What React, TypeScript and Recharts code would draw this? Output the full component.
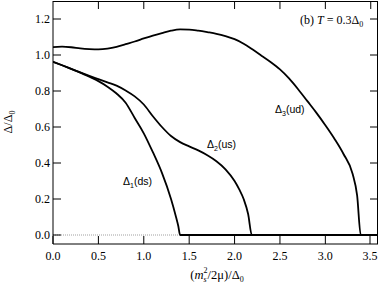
import { LineChart, Line, XAxis, YAxis, ReferenceLine } from "recharts";

// series: x = (m_s^2/2mu)/Delta_0, y = Delta/Delta_0
const dsX = [0, 0.1, 0.2, 0.3, 0.4, 0.5, 0.6, 0.7, 0.8, 0.9, 1.0, 1.1, 1.2, 1.3, 1.35, 1.38, 1.4, 3.58];
const dsY = [0.962, 0.943, 0.923, 0.902, 0.879, 0.855, 0.824, 0.786, 0.735, 0.65, 0.565, 0.46, 0.345, 0.2, 0.11, 0.05, 0, 0];

const usX = [0, 0.1, 0.2, 0.3, 0.4, 0.5, 0.6, 0.7, 0.8, 0.9, 1.0, 1.1, 1.2, 1.3, 1.4, 1.5, 1.6, 1.7, 1.8, 1.9, 2.0, 2.05, 2.1, 2.15, 2.19, 3.58];
const usY = [0.962, 0.943, 0.923, 0.903, 0.884, 0.866, 0.848, 0.83, 0.803, 0.77, 0.725, 0.66, 0.6, 0.55, 0.516, 0.492, 0.47, 0.443, 0.41, 0.365, 0.3, 0.255, 0.2, 0.115, 0, 0];

const udX = [0, 0.1, 0.2, 0.3, 0.4, 0.5, 0.6, 0.7, 0.8, 0.9, 1.0, 1.1, 1.2, 1.3, 1.4, 1.5, 1.6, 1.7, 1.8, 1.9, 2.0, 2.1, 2.2, 2.3, 2.4, 2.5, 2.6, 2.7, 2.8, 2.9, 3.0, 3.1, 3.2, 3.3, 3.35, 3.39, 3.58];
const udY = [1.044, 1.046, 1.043, 1.037, 1.033, 1.031, 1.035, 1.045, 1.06, 1.075, 1.092, 1.108, 1.122, 1.135, 1.142, 1.141, 1.135, 1.127, 1.118, 1.105, 1.088, 1.063, 1.03, 0.995, 0.96, 0.92, 0.87, 0.81, 0.745, 0.68, 0.61, 0.535, 0.45, 0.34, 0.22, 0, 0];

const xTicks = [0, 0.5, 1.0, 1.5, 2.0, 2.5, 3.0, 3.5];
const yTicks = [0, 0.2, 0.4, 0.6, 0.8, 1.0, 1.2];
const X_MAX = 3.58;
const Y_MIN = -0.05;
const Y_MAX = 1.3;

const toRows = (xs: number[], ys: number[]) => xs.map((x, i) => ({ x, y: ys[i] }));
const dsData = toRows(dsX, dsY);
const usData = toRows(usX, usY);
const udData = toRows(udX, udY);

const W = 380;
const H = 286;
const M = { top: 1, right: 2, bottom: 0, left: 0 };
const Y_AXIS_W = 53;
const X_AXIS_H = 42;
// plot box, same numbers the chart gets
const PL = M.left + Y_AXIS_W;
const PR = W - M.right;
const PT = M.top;
const PB = H - M.bottom - X_AXIS_H;
const px = (v: number) => PL + (v / X_MAX) * (PR - PL);
const py = (v: number) => PT + ((Y_MAX - v) / (Y_MAX - Y_MIN)) * (PB - PT);

const SERIF = "Liberation Serif";
const SANS = "Liberation Sans";
const TICK = 8;

// inward tick marks, like the original plot frame
const BottomTick = ({ x, y, payload }: any) => (
  <g>
    <line x1={x} y1={y} x2={x} y2={y - TICK} stroke="#000" />
    <text x={x} y={y + 15.5} textAnchor="middle" fontFamily={SERIF} fontSize={12} fill="#000">
      {payload.value.toFixed(1)}
    </text>
  </g>
);
const LeftTick = ({ x, y, payload }: any) => (
  <g>
    <line x1={x} y1={y} x2={x + TICK} y2={y} stroke="#000" />
    <text x={x - 3} y={y + 4} textAnchor="end" fontFamily={SERIF} fontSize={12} fill="#000">
      {payload.value.toFixed(1)}
    </text>
  </g>
);

const Sub = ({ children, size = 7 }: any) => (
  <tspan dy={3} fontSize={size}>
    {children}
  </tspan>
);

export default function App() {
  return (
    <div style={{ position: "absolute", left: 0, top: 0, width: W, height: H, background: "#fff" }}>
      <LineChart width={W} height={H} margin={M}>
        <XAxis
          type="number"
          dataKey="x"
          domain={[0, X_MAX]}
          ticks={xTicks}
          allowDataOverflow
          height={X_AXIS_H}
          tickSize={0}
          tickMargin={0}
          tickLine={false}
          tick={<BottomTick />}
          stroke="#000"
        />
        <YAxis
          type="number"
          domain={[Y_MIN, Y_MAX]}
          ticks={yTicks}
          allowDataOverflow
          width={Y_AXIS_W}
          tickSize={0}
          tickMargin={0}
          tickLine={false}
          tick={<LeftTick />}
          stroke="#000"
        />
        <ReferenceLine y={0} stroke="#888" strokeDasharray="1 1" strokeWidth={0.8} />
        <Line data={dsData} dataKey="y" type="monotone" stroke="#000" strokeWidth={1.8} dot={false} isAnimationActive={false} />
        <Line data={usData} dataKey="y" type="monotone" stroke="#000" strokeWidth={1.8} dot={false} isAnimationActive={false} />
        <Line data={udData} dataKey="y" type="monotone" stroke="#000" strokeWidth={1.8} dot={false} isAnimationActive={false} />
      </LineChart>
      <svg width={W} height={H} style={{ position: "absolute", left: 0, top: 0, pointerEvents: "none" }}>
        {/* top and right sides of the frame with inward ticks */}
        <line x1={PL} y1={PT + 0.5} x2={PR} y2={PT + 0.5} stroke="#000" />
        <line x1={PR - 0.5} y1={PT} x2={PR - 0.5} y2={PB} stroke="#000" />
        {xTicks.slice(1).map((t) => (
          <line key={"t" + t} x1={px(t)} y1={PT} x2={px(t)} y2={PT + TICK} stroke="#000" />
        ))}
        {yTicks.slice(1).map((t) => (
          <line key={"r" + t} x1={PR} y1={py(t)} x2={PR - TICK} y2={py(t)} stroke="#000" />
        ))}
        <text x={300} y={24} fontFamily={SERIF} fontSize={12} fill="#000">
          (b) <tspan fontStyle="italic">T</tspan> = 0.3Δ<Sub size={8}>0</Sub>
        </text>
        <text x={275} y={113} fontFamily={SANS} fontSize={10.5} fill="#000">
          Δ<Sub>3</Sub><tspan dy={-3}>(ud)</tspan>
        </text>
        <text x={207} y={148} fontFamily={SANS} fontSize={10.5} fill="#000">
          Δ<Sub>2</Sub><tspan dy={-3}>(us)</tspan>
        </text>
        <text x={123} y={185} fontFamily={SANS} fontSize={10.5} fill="#000">
          Δ<Sub>1</Sub><tspan dy={-3}>(ds)</tspan>
        </text>
        <text x={217} y={279} textAnchor="middle" fontFamily={SERIF} fontSize={12.5} fill="#000">
          (<tspan fontStyle="italic">m</tspan>
          <tspan dy={3} fontSize={8} fontStyle="italic">s</tspan>
          <tspan dy={-9} dx={-3} fontSize={8}>2</tspan>
          <tspan dy={6}>/2μ)/Δ</tspan>
          <Sub size={8}>0</Sub>
        </text>
        <text transform="translate(12,122) rotate(-90)" textAnchor="middle" fontFamily={SERIF} fontSize={12} fill="#000">
          Δ/Δ<Sub size={8}>0</Sub>
        </text>
      </svg>
    </div>
  );
}
